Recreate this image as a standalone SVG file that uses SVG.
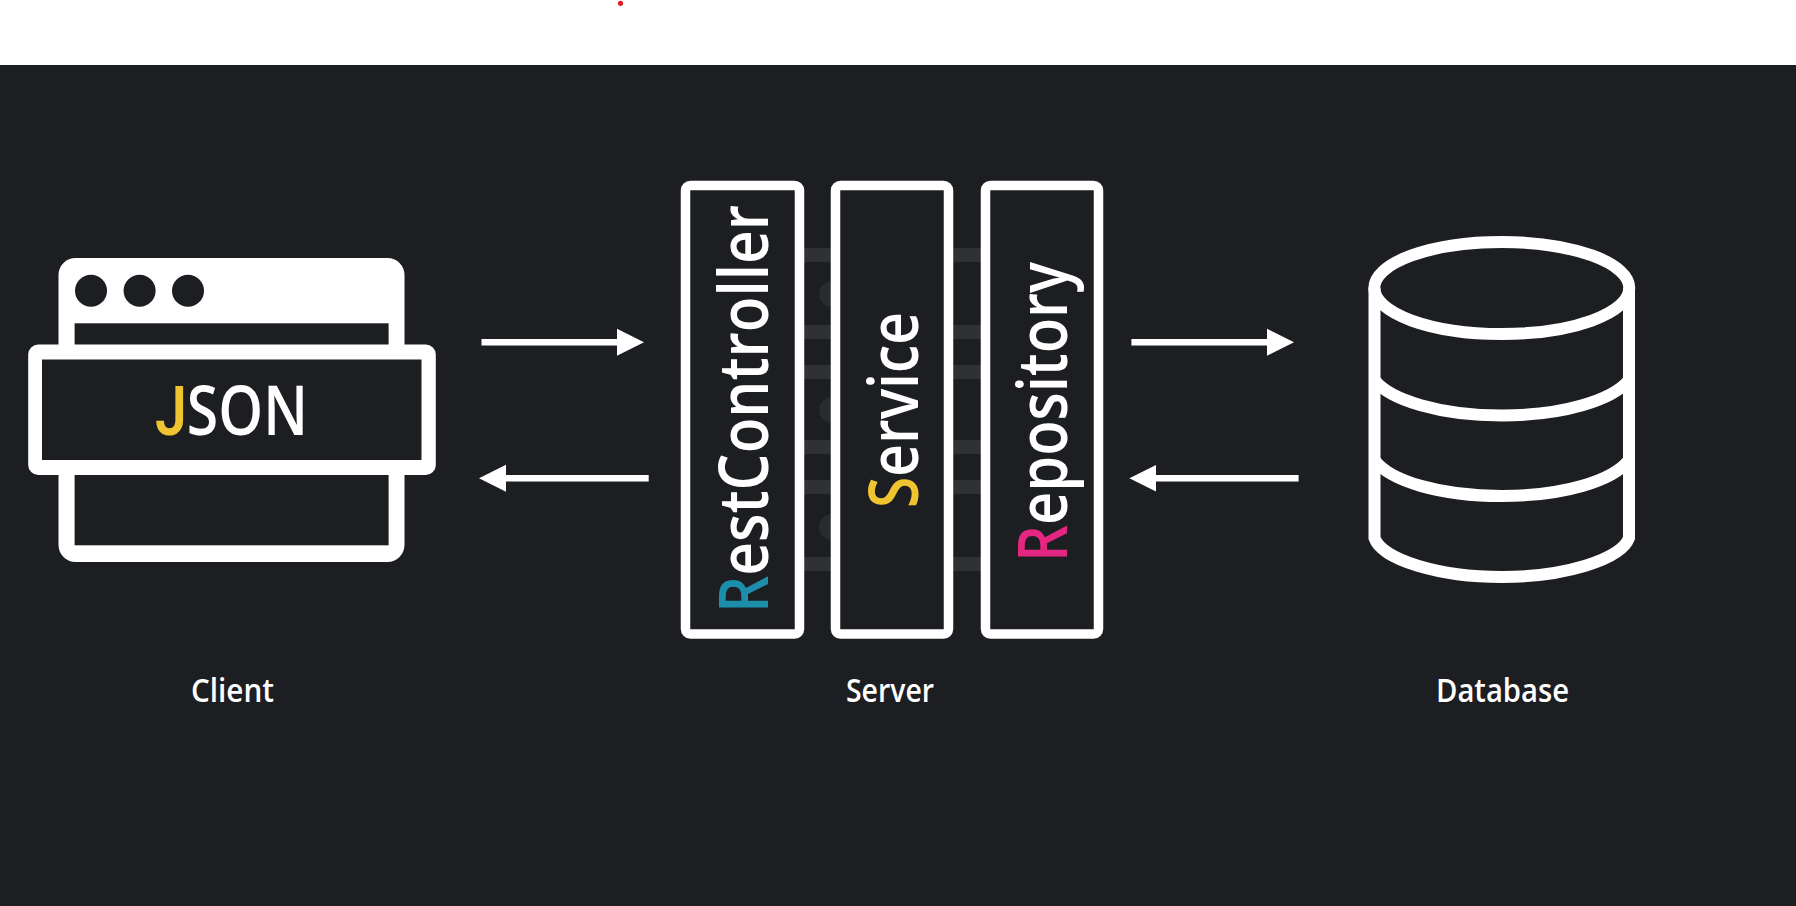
<svg xmlns="http://www.w3.org/2000/svg" width="1796" height="906" viewBox="0 0 1796 906">
<style>
.w{fill:#fff}.d{fill:#1d1e22}
.box{fill:#1d1e22;stroke:#fff;stroke-width:9.5}
.ghost{fill:#303134}
.ghostc{fill:#2a2b2f}
.conn{stroke:#fff;stroke-width:6.5;fill:none}
.db{fill:none;stroke:#fff;stroke-width:12}
text{font-family:"Open Sans","Noto Sans","DejaVu Sans",sans-serif;fill:#fff}
.big{font-size:68px;font-weight:600}
.lbl{font-size:32px;font-weight:600}
</style>
<defs>
<marker id="head" markerUnits="userSpaceOnUse" markerWidth="28" markerHeight="28" refX="1" refY="14" orient="auto" viewBox="0 0 28 28"><path d="M0 0.5L27 14L0 27.5Z" fill="#fff"/></marker>
</defs>
<rect width="1796" height="906" fill="#fff"/>
<rect y="65" width="1796" height="841" class="d"/>
<circle cx="620.5" cy="3.3" r="2.6" fill="#e3202a"/>
<g id="ghost-background">
<rect class="ghost" x="804" y="248" width="28" height="14"/><rect class="ghost" x="804" y="325" width="28" height="14"/><rect class="ghost" x="804" y="365" width="28" height="14"/><rect class="ghost" x="804" y="440" width="28" height="14"/><rect class="ghost" x="804" y="480" width="28" height="14"/><rect class="ghost" x="804" y="557" width="28" height="14"/>
<rect class="ghost" x="952" y="248" width="30" height="14"/><rect class="ghost" x="952" y="325" width="30" height="14"/><rect class="ghost" x="952" y="365" width="30" height="14"/><rect class="ghost" x="952" y="440" width="30" height="14"/><rect class="ghost" x="952" y="480" width="30" height="14"/><rect class="ghost" x="952" y="557" width="30" height="14"/>
<circle class="ghostc" cx="832" cy="294" r="13"/><circle class="ghostc" cx="832" cy="410" r="13"/><circle class="ghostc" cx="832" cy="527" r="13"/>
</g>
<g id="client">
<rect class="w" x="58.5" y="258" width="346" height="304" rx="17"/>
<rect class="d" x="74.6" y="323.3" width="314" height="222"/>
<circle class="d" cx="91" cy="290.7" r="16"/><circle class="d" cx="139.6" cy="290.7" r="16"/><circle class="d" cx="188" cy="290.7" r="16"/>
<rect class="w" x="28.2" y="344.5" width="407.6" height="130.5" rx="10"/>
<rect class="d" x="42" y="359.5" width="379.5" height="100.5"/>
<text class="big" transform="translate(155 435) scale(.84 1)"><tspan fill="#eec530" style="font-family:Roboto,sans-serif">J</tspan>SON</text>
<text class="lbl" x="191" y="701.5" textLength="83" lengthAdjust="spacingAndGlyphs">Client</text>
</g>
<g id="rest-controller">
<rect class="box" x="685.5" y="185.5" width="114" height="448.500" rx="5"/>
<text class="big" transform="translate(767.5 613) rotate(-90)" textLength="408" lengthAdjust="spacingAndGlyphs"><tspan fill="#1c8eaa">R</tspan>estController</text>
</g>
<g id="service">
<rect class="box" x="835.5" y="185.5" width="113" height="448.500" rx="5"/>
<text class="big" transform="translate(917.5 508) rotate(-90)" textLength="196" lengthAdjust="spacingAndGlyphs"><tspan fill="#eec530">S</tspan>ervice</text>
</g>
<g id="repository">
<rect class="box" x="985.5" y="185.5" width="113" height="448.500" rx="5"/>
<text class="big" transform="translate(1067.3 562) rotate(-90)" textLength="300" lengthAdjust="spacingAndGlyphs"><tspan fill="#e3267f">R</tspan>epository</text>
</g>
<text class="lbl" x="846" y="701.5" textLength="88" lengthAdjust="spacingAndGlyphs">Server</text>
<g id="database">
<ellipse class="db" cx="1501.8" cy="288" rx="127.5" ry="46"/>
<path class="db" d="M1374.5 288V538C1382 560 1440 577 1501.8 577C1563 577 1621 560 1629 538V288"/>
<path class="db" d="M1374.5 380C1390 400 1440 415.500 1501.800 415.500C1563 415.500 1613 400 1629 380"/>
<path class="db" d="M1374.500 460C1390 481 1440 496 1501.800 496C1563 496 1613 481 1629 460"/>
<text class="lbl" x="1436" y="701.500" textLength="133" lengthAdjust="spacingAndGlyphs">Database</text>
</g>
<g id="connectors">
<line class="conn" x1="481.500" y1="342.300" x2="618" y2="342.300" marker-end="url(#head)"/>
<line class="conn" x1="648.700" y1="478.300" x2="505" y2="478.300" marker-end="url(#head)"/>
<line class="conn" x1="1131.400" y1="342.300" x2="1268" y2="342.300" marker-end="url(#head)"/>
<line class="conn" x1="1298.600" y1="478.300" x2="1155.400" y2="478.300" marker-end="url(#head)"/>
</g>
</svg>
